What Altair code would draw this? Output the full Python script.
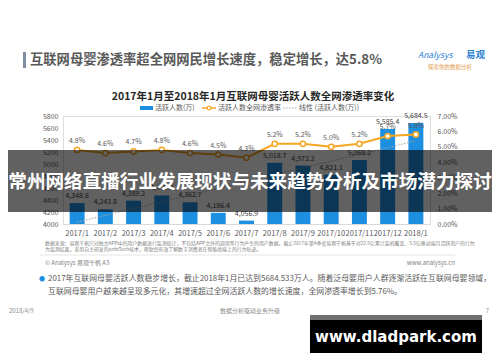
import json
import altair as alt
import pandas as pd

# ---------------- data ----------------
months = ["2017/1", "2017/2", "2017/3", "2017/4", "2017/5", "2017/6", "2017/7",
          "2017/8", "2017/9", "2017/10", "2017/11", "2017/12", "2018/1"]
users = [4348.6, 4243.8, 4389.2, 4475.9, 4362.7, 4186.4, 4056.9,
         5018.7, 4973.2, 4821.1, 5068.2, 5585.4, 5684.5]
rates = [0.048, 0.046, 0.047, 0.048, 0.046, 0.045, 0.043,
         0.052, 0.052, 0.050, 0.052, 0.057, 0.058]
left_ticks = [4000, 4200, 4400, 4600, 4800, 5000, 5200, 5400, 5600, 5800]
right_ticks = [0.00, 0.01, 0.02, 0.03, 0.04, 0.05, 0.06, 0.07]

HEADER = "互联网母婴渗透率超全网网民增长速度，稳定增长，达5.8%"
TITLE = "2017年1月至2018年1月互联网母婴活跃人数全网渗透率变化"
legend_labels = ["活跃人数(万)", "活跃人数全网渗透率", "线性 (活跃人数(万))"]
BANNER = "常州网络直播行业发展现状与未来趋势分析及市场潜力探讨"
SOURCE = [
    "数据来源：易观千帆只对独立APP中的用户数据进行监测统计，不包括APP之外的调用等行为产生的用户数据。截止2017年第4季度易观千帆基于对22.5亿累计装机覆盖、5.5亿移动端月活跃用户的行为",
    "为监测结果，采用自主研发的enfoTech技术，帮助您有效了解数字消费者在智能终端上的行为轨迹。",
]
COPYRIGHT = "© Analysys 易观千帆 A3"
SITE = "www.analysys.cn"
BULLET = [
    "2017年互联网母婴活跃人数稳步增长，截止2018年1月已达到5684.533万人。随着泛母婴用户人群逐渐活跃在互联网母婴领域，",
    "互联网母婴用户越来越呈现多元化，其增速超过全网活跃人数的增长速度，全网渗透率增长到5.76%。",
]
FOOTER = ["2018/4/9", "数据分析驱动业务升级", "7"]
LOGO = ["Analysys", "易观", "探索你的数据分析"]
WATERMARK = "www.dladpark.com"

df = pd.DataFrame({"month": months, "users": users, "rate": rates,
                   "idx": list(range(len(months)))})

FONT = "Noto Sans CJK SC"
BLUE = "#1d8fe1"
ORANGE = "#f5a623"
GREY = "#595959"

x_scale = alt.Scale(type="band", domain=months, paddingInner=0.47, paddingOuter=0.235)
x_enc = alt.X("month:N", sort=months, scale=x_scale,
              axis=alt.Axis(title=None, labelAngle=0, labelFontSize=7.5, labelColor=GREY,
                            labelPadding=5, ticks=False, domainColor="#d9d9d9", grid=False,
                            labelFont=FONT, labelOverlap=False))

y_left = alt.Y("users:Q",
               scale=alt.Scale(domain=[4000, 5800], zero=False, nice=False),
               axis=alt.Axis(title=None, values=left_ticks, format="d", labelFontSize=7,
                             labelColor=GREY, labelPadding=5, ticks=False, domain=False,
                             grid=False, labelFont=FONT, labelOverlap=False, orient="left"))

y_right = alt.Y("rate:Q",
                scale=alt.Scale(domain=[0, 0.07], nice=False),
                axis=alt.Axis(title=None, orient="right", values=right_ticks, format=".2%",
                              labelFontSize=7, labelColor=GREY, labelPadding=7, ticks=False,
                              domain=False, grid=False, labelFont=FONT, labelOverlap=False))

base = alt.Chart(df)

bars = base.mark_bar(color=BLUE).encode(x=x_enc, y=y_left, y2=alt.datum(4000))
bar_labels = base.mark_text(dy=-7, fontSize=7, color="#404040", font=FONT).encode(
    x=x_enc, y=y_left, text=alt.Text("users:Q", format=",.1f"))
trend = (base.transform_regression("idx", "users")
         .transform_calculate(month=f"{json.dumps(months)}[datum.idx]")
         .mark_line(color="#a6a6a6", strokeDash=[1.5, 1.5], strokeWidth=1)
         .encode(x=x_enc, y=y_left))

line = base.mark_line(color=ORANGE, strokeWidth=2).encode(x=x_enc, y=y_right)
pts = base.mark_point(shape="circle", filled=True, fill="white", stroke=ORANGE,
                      strokeWidth=1.5, size=28, opacity=1).encode(x=x_enc, y=y_right)
pct_labels = base.mark_text(dy=-9, fontSize=7, color=GREY, font=FONT).encode(
    x=x_enc, y=y_right, text=alt.Text("rate:Q", format=".1%"))


def txt(s, x, y, size, color, weight="normal", align="left", font=FONT, italic=False):
    kw = dict(align=align, baseline="middle", fontSize=size, color=color,
              fontWeight=weight, font=font)
    if italic:
        kw["fontStyle"] = "italic"
    return alt.Chart(pd.DataFrame({"t": [s]})).mark_text(**kw).encode(
        text="t:N", x=alt.value(x), y=alt.value(y))


def box(x1, x2, y1, y2, color, opacity=1.0):
    return alt.Chart(pd.DataFrame({"a": [0]})).mark_rect(color=color, opacity=opacity).encode(
        x=alt.value(x1), x2=alt.value(x2), y=alt.value(y1), y2=alt.value(y2))


def hrule(x1, x2, y, color, width=1.0, dash=None):
    kw = dict(color=color, strokeWidth=width)
    if dash:
        kw["strokeDash"] = dash
    return alt.Chart(pd.DataFrame({"a": [0]})).mark_rule(**kw).encode(
        x=alt.value(x1), x2=alt.value(x2), y=alt.value(y))


legend_dot = alt.Chart(pd.DataFrame({"a": [0]})).mark_point(
    shape="circle", filled=True, fill="white", stroke=ORANGE, strokeWidth=1.2,
    size=14, opacity=1).encode(x=alt.value(146), y=alt.value(-8))

annotations = [
    # header
    box(-40, -37, -64, -48, "#7f8fa6"),
    txt(HEADER, -33, -56, 13.3, GREY, "bold"),
    # logo
    txt(LOGO[0], 355, -61, 8.5, "#2b7fd4", italic=True),
    txt(LOGO[1], 403, -61, 9.5, "#2b7fd4", "bold"),
    txt(LOGO[2], 365, -49, 5.5, "#e09a4a"),
    # chart title + legend
    txt(TITLE, 190, -19, 10.5, "#262626", "bold", "center"),
    box(77, 90, -10, -6, BLUE),
    txt(legend_labels[0], 92, -8, 7, GREY),
    hrule(139, 153, -8, ORANGE, 1.5),
    legend_dot,
    txt(legend_labels[1], 155, -8, 7, GREY),
    hrule(220, 234, -8, "#a6a6a6", 1, [1.5, 1.5]),
    txt(legend_labels[2], 236, -8, 7, GREY),
    # banner overlay
    box(-55, 429, 34, 96, "black", 0.62),
    txt(BANNER, 187, 66, 18.6, "white", "bold", "center"),
    # source + footer
    txt(SOURCE[0], -18, 128, 4.9, "#7f7f7f"),
    txt(SOURCE[1], -18, 134, 4.9, "#7f7f7f"),
    hrule(-23, 392, 139, "#e5e5e5", 1),
    txt(COPYRIGHT, -18, 147, 6, "#7f7f7f"),
    txt(SITE, 392, 147, 6, "#7f7f7f", align="right"),
    txt("●", -21, 163, 6, "#1d8fe1", align="center"),
    txt(BULLET[0], -15, 163, 7.9, GREY),
    txt(BULLET[1], -15, 176, 7.9, GREY),
    txt(FOOTER[0], -54, 195, 6, "#8c8c8c"),
    txt(FOOTER[1], 187, 195, 6, "#8c8c8c", align="center"),
    txt(FOOTER[2], 426, 195, 6, "#8c8c8c", align="right"),
    # watermark
    box(247, 419, 199, 204, "#707070"),
    box(247, 419, 204, 237, "black"),
    txt(WATERMARK, 333, 221, 15, "white", "bold", "center", font="DejaVu Sans"),
]

left = alt.layer(bars, bar_labels, trend)
right = alt.layer(line, pts, pct_labels, *annotations)

chart = (alt.layer(left, right)
         .resolve_scale(y="independent")
         .properties(width=367, height=108, autosize="none",
                     padding={"left": 55, "top": 108, "right": 62, "bottom": 130},
                     background="white")
         .configure_view(stroke=None)
         .configure(font=FONT))

chart.save("out.html", embed_options={"renderer": "svg", "actions": False})
